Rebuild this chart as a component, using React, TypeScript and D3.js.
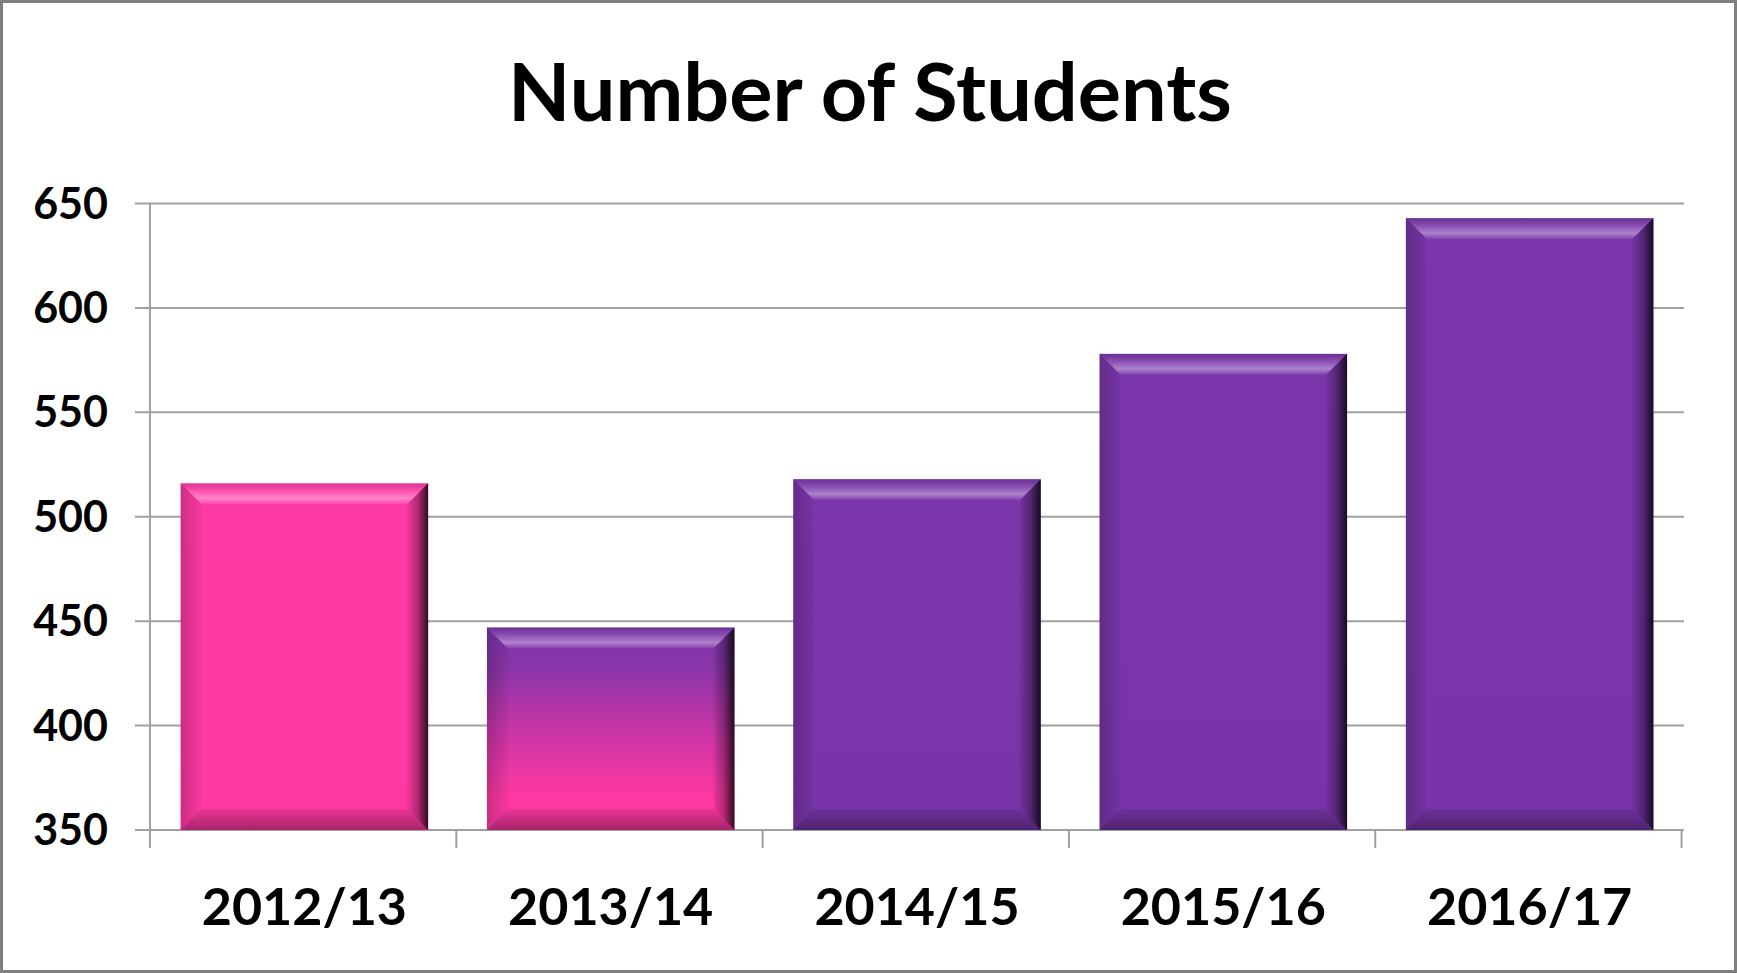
import * as d3 from "d3";

const categories = ["2012/13", "2013/14", "2014/15", "2015/16", "2016/17"];
const students = [516, 447, 518, 578, 643];
const yTicks = [350, 400, 450, 500, 550, 600, 650];

// fill of each bar: pink, pink->purple blend, then purple
const barFills = ["url(#pinkFill)", "url(#mixFill)", "url(#purpleFill)", "url(#purpleFill)", "url(#purpleFill)"];

const width = 1737;
const height = 973;
const plot = { left: 150, right: 1684, top: 203.5, bottom: 830 };
const bevel = 21;

export default function App() {
  const x = d3
    .scaleBand<string>()
    .domain(categories)
    .range([plot.left, plot.right])
    .paddingInner(0.192)
    .paddingOuter(0.1);

  const y = d3.scaleLinear().domain([350, 650]).range([plot.bottom, plot.top]);

  const step = x.step();
  const boundaries = d3.range(categories.length + 1).map((i) => plot.left + i * step);

  return (
    <svg
      width={width}
      height={height}
      style={{ position: "absolute", left: 0, top: 0, background: "#fff" }}
      fontFamily="Lato, 'Open Sans', sans-serif"
    >
      <defs>
        <linearGradient id="pinkFill" x1="0" y1="0" x2="0" y2="1">
          <stop offset="0" stopColor="#ff3aa6" />
          <stop offset="1" stopColor="#ff38a2" />
        </linearGradient>
        <linearGradient id="purpleFill" x1="0" y1="0" x2="0" y2="1">
          <stop offset="0" stopColor="#7a36aa" />
          <stop offset="1" stopColor="#7834a8" />
        </linearGradient>
        <linearGradient id="mixFill" x1="0" y1="0" x2="0" y2="1">
          <stop offset="0" stopColor="#7a36aa" />
          <stop offset="0.2" stopColor="#8a35a9" />
          <stop offset="0.55" stopColor="#d035a6" />
          <stop offset="0.85" stopColor="#ff38a2" />
          <stop offset="1" stopColor="#ff38a2" />
        </linearGradient>
        <linearGradient id="bevTop" x1="0" y1="0" x2="0" y2="1">
          <stop offset="0" stopColor="#000" stopOpacity="0.12" />
          <stop offset="0.4" stopColor="#fff" stopOpacity="0.15" />
          <stop offset="0.72" stopColor="#fff" stopOpacity="0.38" />
          <stop offset="1" stopColor="#fff" stopOpacity="0.05" />
        </linearGradient>
        <linearGradient id="bevRight" x1="0" y1="0" x2="1" y2="0">
          <stop offset="0" stopColor="#000" stopOpacity="0.05" />
          <stop offset="0.5" stopColor="#000" stopOpacity="0.3" />
          <stop offset="1" stopColor="#000" stopOpacity="0.8" />
        </linearGradient>
        <linearGradient id="bevBottom" x1="0" y1="0" x2="0" y2="1">
          <stop offset="0" stopColor="#000" stopOpacity="0.08" />
          <stop offset="1" stopColor="#000" stopOpacity="0.35" />
        </linearGradient>
        <linearGradient id="bevLeft" x1="0" y1="0" x2="1" y2="0">
          <stop offset="0" stopColor="#000" stopOpacity="0.2" />
          <stop offset="1" stopColor="#000" stopOpacity="0.03" />
        </linearGradient>
      </defs>

      <rect x={1.5} y={1.5} width={width - 3} height={height - 3} fill="#fff" stroke="#7f7f7f" strokeWidth={3} />

      <text x={870} y={121} textAnchor="middle" fontSize={81} fontWeight={700} fill="#000">
        Number of Students
      </text>

      {yTicks.map((t) => (
        <g key={t}>
          <line x1={plot.left - 15} x2={plot.right} y1={y(t)} y2={y(t)} stroke="#a0a0a0" strokeWidth={2} />
          <text x={108} y={y(t) + 15} textAnchor="end" fontSize={43} fontWeight={700} fill="#000">
            {t}
          </text>
        </g>
      ))}

      <line x1={plot.left} x2={plot.left} y1={plot.top} y2={plot.bottom} stroke="#a0a0a0" strokeWidth={2} />
      {boundaries.map((bx, i) => (
        <line key={i} x1={bx} x2={bx} y1={plot.bottom} y2={plot.bottom + 18} stroke="#a0a0a0" strokeWidth={2} />
      ))}

      {categories.map((c, i) => {
        const x0 = x(c) ?? 0;
        const x1 = x0 + x.bandwidth();
        const y0 = y(students[i]);
        const y1 = y(350);
        const b = bevel;
        return (
          <g key={c}>
            <rect x={x0} y={y0} width={x1 - x0} height={y1 - y0} fill={barFills[i]} />
            <polygon points={`${x0},${y0} ${x0 + b},${y0 + b} ${x0 + b},${y1 - b} ${x0},${y1}`} fill="url(#bevLeft)" />
            <polygon points={`${x0},${y1} ${x1},${y1} ${x1 - b},${y1 - b} ${x0 + b},${y1 - b}`} fill="url(#bevBottom)" />
            <polygon points={`${x0},${y0} ${x1},${y0} ${x1 - b},${y0 + b} ${x0 + b},${y0 + b}`} fill="url(#bevTop)" />
            <polygon points={`${x1},${y0} ${x1},${y1} ${x1 - b},${y1 - b} ${x1 - b},${y0 + b}`} fill="url(#bevRight)" />
          </g>
        );
      })}

      {categories.map((c) => (
        <text
          key={c}
          x={(x(c) ?? 0) + x.bandwidth() / 2}
          y={925}
          textAnchor="middle"
          fontSize={52}
          fontWeight={700}
          fill="#000"
        >
          {c}
        </text>
      ))}
    </svg>
  );
}
